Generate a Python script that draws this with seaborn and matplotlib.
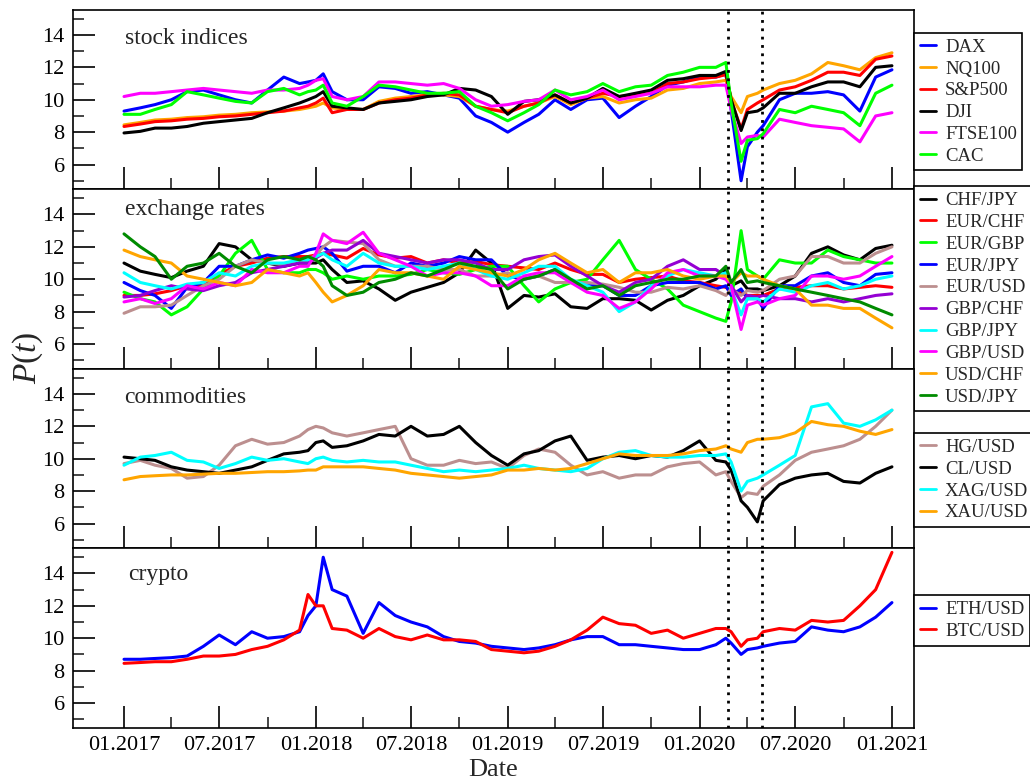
import numpy as np
import pandas as pd
import matplotlib
matplotlib.use("Agg")
import matplotlib.pyplot as plt
import matplotlib.dates as mdates
from matplotlib.ticker import MultipleLocator, FixedLocator
from matplotlib.lines import Line2D
import seaborn as sns

# ---------------- data ----------------
DATES = [
    "2017-01-01", "2017-02-01", "2017-03-01", "2017-04-01", "2017-05-01", "2017-06-01",
    "2017-07-01", "2017-08-01", "2017-09-01", "2017-10-01", "2017-11-01", "2017-12-01", "2017-12-17",
    "2018-01-01", "2018-01-15", "2018-02-01", "2018-03-01", "2018-04-01", "2018-05-01", "2018-06-01",
    "2018-07-01", "2018-08-01", "2018-09-01", "2018-10-01", "2018-11-01", "2018-12-01",
    "2019-01-01", "2019-02-01", "2019-03-01", "2019-04-01", "2019-05-01", "2019-06-01",
    "2019-07-01", "2019-08-01", "2019-09-01", "2019-10-01", "2019-11-01", "2019-12-01",
    "2020-01-01", "2020-02-01", "2020-02-20", "2020-03-01", "2020-03-20", "2020-04-01", "2020-04-20",
    "2020-05-01", "2020-06-01", "2020-07-01", "2020-08-01", "2020-09-01", "2020-10-01",
    "2020-11-01", "2020-12-01",
    "2021-01-01",
]

# stock indices
DAX = [9.3, 9.5, 9.7, 10.0, 10.5, 10.6, 10.3, 10.0, 9.8, 10.6, 11.4, 11.0, 11.1,
       11.2, 11.6, 10.5, 10.0, 10.0, 10.8, 10.7, 10.4, 10.5, 10.3, 10.1, 9.0, 8.6,
       8.0, 8.6, 9.1, 10.0, 9.4, 10.0, 10.1, 8.9, 9.6, 10.2, 10.9, 11.1,
       11.4, 11.4, 11.6, 9.4, 5.0, 7.1, 8.0, 8.4, 10.0, 10.4, 10.4, 10.5, 10.3, 9.3, 11.4,
       11.85]
NQ100 = [8.45, 8.6, 8.75, 8.8, 8.9, 8.95, 9.05, 9.1, 9.2, 9.25, 9.3, 9.4, 9.5,
         9.6, 9.8, 9.5, 9.4, 9.4, 9.9, 10.1, 10.2, 10.3, 10.3, 10.2, 9.6, 9.4,
         9.3, 9.6, 9.8, 10.2, 9.7, 10.1, 10.2, 9.8, 10.0, 10.1, 10.6, 10.7,
         11.0, 11.1, 11.2, 10.2, 9.2, 10.2, 10.4, 10.6, 11.0, 11.2, 11.6, 12.3, 12.1, 11.85, 12.6,
         12.9]
SP500 = [8.35, 8.5, 8.65, 8.7, 8.8, 8.85, 8.95, 9.0, 9.1, 9.2, 9.3, 9.5, 9.6,
         9.8, 10.1, 9.2, 9.4, 9.4, 9.8, 10.0, 10.1, 10.3, 10.4, 10.3, 9.6, 9.4,
         9.2, 9.6, 9.8, 10.3, 9.8, 10.1, 10.4, 10.2, 10.3, 10.4, 11.0, 11.1,
         11.3, 11.4, 11.55, 10.0, 8.2, 9.4, 9.8, 10.0, 10.6, 10.8, 11.2, 11.7, 11.7, 11.5, 12.5,
         12.7]
DJI = [7.95, 8.05, 8.25, 8.25, 8.35, 8.55, 8.65, 8.75, 8.85, 9.2, 9.5, 9.8, 10.0,
       10.2, 10.5, 9.6, 9.5, 9.4, 9.8, 9.9, 10.0, 10.2, 10.3, 10.7, 10.6, 10.2,
       9.1, 9.9, 10.0, 10.3, 9.8, 10.1, 10.7, 10.2, 10.4, 10.6, 11.2, 11.3,
       11.5, 11.5, 11.75, 10.0, 8.1, 9.2, 9.3, 9.5, 10.4, 10.4, 10.8, 11.1, 11.1, 10.8, 12.0,
       12.1]
FTSE100 = [10.2, 10.4, 10.4, 10.5, 10.6, 10.7, 10.6, 10.5, 10.4, 10.6, 10.6, 10.7, 10.9,
           11.2, 11.3, 10.2, 10.0, 10.2, 11.1, 11.1, 11.0, 10.9, 11.0, 10.7, 10.0, 9.6,
           9.7, 9.9, 10.0, 10.6, 10.0, 10.2, 10.6, 10.0, 10.2, 10.4, 10.8, 10.8,
           10.8, 10.9, 10.9, 9.4, 7.3, 7.7, 7.8, 7.7, 8.8, 8.6, 8.4, 8.3, 8.2, 7.4, 9.0,
           9.2]
CAC = [9.1, 9.1, 9.4, 9.7, 10.5, 10.3, 10.1, 9.9, 9.8, 10.5, 10.7, 10.3, 10.5,
       10.6, 10.9, 9.8, 9.6, 10.2, 10.9, 10.8, 10.6, 10.4, 10.4, 10.5, 9.6, 9.2,
       8.7, 9.2, 9.7, 10.6, 10.3, 10.5, 11.0, 10.5, 10.8, 10.9, 11.5, 11.7,
       12.0, 12.0, 12.3, 9.8, 6.2, 7.5, 7.6, 7.9, 9.4, 9.2, 9.6, 9.4, 9.2, 8.4, 10.4,
       10.9]

# exchange rates
CHFJPY = [11.0, 10.5, 10.3, 10.1, 10.5, 10.8, 12.2, 12.0, 11.2, 11.0, 10.8, 11.0, 11.0,
          11.0, 11.2, 10.6, 9.8, 9.9, 9.4, 8.7, 9.2, 9.5, 9.8, 10.4, 11.8, 11.0,
          8.2, 9.0, 8.9, 9.1, 8.3, 8.2, 8.8, 8.8, 8.7, 8.1, 8.7, 9.0,
          9.6, 10.0, 10.6, 9.6, 9.9, 9.4, 9.4, 9.3, 9.6, 10.2, 11.6, 12.0, 11.5, 11.2, 11.9,
          12.1]
EURCHF = [9.0, 9.0, 9.1, 9.3, 9.6, 9.6, 10.3, 10.8, 11.0, 11.3, 11.4, 11.4, 11.4,
          11.5, 11.6, 11.5, 11.3, 11.9, 11.5, 11.3, 11.4, 11.0, 11.2, 11.0, 11.1, 10.9,
          10.8, 10.7, 10.6, 11.0, 10.6, 10.3, 10.3, 9.8, 10.0, 10.1, 10.2, 9.9,
          9.8, 9.6, 9.5, 9.3, 9.2, 9.0, 9.0, 9.0, 9.4, 9.5, 9.6, 9.6, 9.4, 9.5, 9.6,
          9.5]
EURGBP = [9.2, 8.8, 8.6, 7.8, 8.3, 9.4, 10.2, 11.6, 12.4, 10.6, 10.4, 10.4, 10.6,
          10.6, 10.4, 10.0, 10.2, 10.0, 10.2, 10.2, 10.3, 10.6, 10.4, 10.3, 10.6, 10.8,
          10.8, 9.6, 8.6, 9.4, 9.8, 10.0, 11.2, 12.4, 10.6, 10.0, 9.4, 8.4,
          8.0, 7.6, 7.4, 8.6, 13.0, 10.6, 10.2, 10.0, 11.2, 11.0, 11.0, 11.8, 11.4, 11.2, 11.0,
          11.0]
EURJPY = [9.8, 9.3, 9.0, 8.2, 9.5, 9.8, 10.8, 10.8, 11.2, 11.5, 11.3, 11.6, 11.8,
          11.9, 12.0, 11.6, 10.5, 10.8, 10.8, 10.4, 11.0, 10.8, 11.0, 11.4, 11.2, 11.2,
          10.2, 10.0, 10.2, 10.6, 9.8, 9.6, 9.6, 9.0, 9.0, 9.6, 9.8, 9.8,
          9.8, 9.4, 9.6, 9.0, 9.4, 8.8, 8.8, 8.2, 9.6, 9.6, 10.2, 10.4, 9.8, 9.6, 10.3,
          10.4]
EURUSD = [7.9, 8.3, 8.3, 8.4, 9.0, 9.6, 10.0, 10.8, 11.2, 11.0, 10.9, 11.2, 11.2,
          11.5, 12.0, 12.4, 12.3, 12.2, 11.2, 10.8, 10.8, 10.8, 10.6, 10.6, 10.2, 10.2,
          10.4, 10.0, 10.2, 9.8, 9.8, 9.8, 9.7, 9.5, 9.2, 9.2, 9.5, 9.4,
          9.6, 9.3, 9.0, 9.4, 9.0, 9.3, 9.2, 9.3, 10.0, 10.2, 11.4, 11.4, 11.0, 11.0, 11.6,
          12.0]
GBPCHF = [8.9, 9.0, 9.3, 9.6, 9.4, 9.3, 9.6, 9.8, 10.4, 10.6, 10.8, 11.0, 11.0,
          11.3, 11.6, 11.8, 11.8, 12.4, 11.6, 11.4, 11.2, 11.0, 11.2, 11.2, 11.0, 10.6,
          10.6, 11.2, 11.4, 11.5, 10.8, 10.2, 9.6, 9.2, 9.8, 10.0, 10.8, 11.2,
          10.6, 10.6, 10.2, 9.6, 8.6, 9.0, 8.9, 9.0, 8.8, 8.8, 8.6, 8.8, 8.6, 8.8, 9.0,
          9.1]
GBPJPY = [10.4, 9.8, 9.6, 9.4, 9.7, 9.8, 10.4, 10.2, 10.8, 11.0, 11.0, 11.2, 11.2,
          11.4, 11.6, 11.2, 10.8, 11.6, 11.0, 10.8, 10.8, 10.6, 10.8, 11.0, 10.6, 10.2,
          10.0, 10.4, 10.8, 10.8, 10.0, 9.6, 9.2, 8.0, 8.6, 9.6, 10.2, 10.6,
          10.4, 10.2, 10.4, 9.4, 7.8, 8.8, 8.8, 8.6, 9.4, 9.2, 9.6, 9.8, 9.4, 9.6, 10.0,
          10.2]
GBPUSD = [8.6, 8.8, 8.5, 8.8, 9.6, 9.4, 9.8, 9.6, 10.6, 10.4, 10.4, 10.8, 10.8,
          11.6, 12.8, 12.4, 12.2, 12.9, 11.6, 11.2, 10.8, 10.2, 10.4, 10.4, 10.2, 9.6,
          9.6, 10.2, 10.4, 10.4, 9.8, 9.2, 9.0, 8.2, 8.6, 9.4, 10.4, 10.6,
          10.2, 10.2, 10.0, 9.6, 6.9, 8.4, 8.6, 8.4, 8.8, 9.0, 10.2, 10.2, 10.0, 10.2, 10.8,
          11.4]
USDCHF = [11.8, 11.4, 11.2, 11.0, 10.2, 10.0, 9.8, 9.6, 9.8, 10.6, 10.4, 10.2, 10.4,
          9.8, 9.2, 8.6, 9.0, 9.6, 10.6, 10.4, 10.4, 10.2, 10.0, 10.8, 10.6, 10.4,
          10.2, 10.6, 11.2, 11.6, 11.0, 10.4, 10.6, 9.8, 10.4, 10.4, 10.6, 10.2,
          10.0, 10.2, 10.2, 9.8, 10.4, 10.2, 10.2, 10.0, 9.6, 9.4, 8.4, 8.4, 8.2, 8.2, 7.6,
          7.0]
USDJPY = [12.8, 12.0, 11.4, 10.0, 10.8, 11.0, 11.6, 10.8, 10.4, 11.2, 11.4, 11.2, 11.4,
          11.2, 10.8, 9.6, 9.0, 9.2, 9.8, 10.0, 10.4, 10.2, 10.6, 11.0, 10.8, 10.6,
          9.4, 10.0, 10.2, 10.6, 10.0, 9.4, 9.6, 9.0, 9.6, 9.8, 10.0, 10.0,
          10.2, 10.2, 10.8, 9.8, 10.6, 9.8, 9.9, 9.8, 9.6, 9.4, 9.2, 9.0, 8.8, 8.6, 8.2,
          7.8]

# commodities
HGUSD = [9.7, 9.9, 9.6, 9.4, 8.8, 8.9, 9.6, 10.8, 11.2, 10.9, 11.0, 11.4, 11.8,
         12.0, 11.9, 11.6, 11.4, 11.6, 11.8, 12.0, 10.0, 9.6, 9.6, 9.9, 9.7, 9.8,
         9.4, 10.2, 10.6, 10.4, 9.6, 9.0, 9.2, 8.8, 9.0, 9.0, 9.5, 9.7,
         9.8, 9.0, 9.2, 8.6, 7.6, 7.9, 7.8, 8.3, 9.0, 9.9, 10.4, 10.6, 10.8, 11.2, 12.0,
         13.0]
CLUSD = [10.1, 10.0, 9.9, 9.5, 9.3, 9.2, 9.1, 9.3, 9.5, 9.9, 10.3, 10.4, 10.5,
         11.0, 11.1, 10.7, 10.8, 11.1, 11.5, 11.4, 12.0, 11.4, 11.5, 12.0, 11.0, 10.2,
         9.6, 10.3, 10.5, 11.1, 11.4, 9.9, 10.1, 10.2, 10.0, 10.2, 10.1, 10.5,
         11.1, 9.9, 9.8, 9.3, 7.4, 7.0, 6.1, 7.4, 8.4, 8.8, 9.0, 9.1, 8.6, 8.5, 9.1,
         9.5]
XAGUSD = [9.6, 10.1, 10.2, 10.4, 9.9, 9.8, 9.4, 9.7, 10.1, 9.9, 10.0, 9.8, 9.7,
          10.0, 10.1, 9.9, 9.8, 9.9, 9.8, 9.8, 9.6, 9.4, 9.2, 9.3, 9.2, 9.3,
          9.4, 9.6, 9.4, 9.3, 9.2, 9.4, 10.0, 10.4, 10.5, 10.2, 10.1, 10.1,
          10.2, 10.2, 10.3, 9.8, 8.0, 8.6, 8.8, 9.0, 9.6, 10.2, 13.2, 13.4, 12.2, 12.0, 12.4,
          13.0]
XAUUSD = [8.7, 8.9, 8.95, 9.0, 9.0, 9.05, 9.1, 9.1, 9.15, 9.2, 9.2, 9.25, 9.3,
          9.3, 9.5, 9.5, 9.5, 9.5, 9.4, 9.3, 9.1, 9.0, 8.9, 8.8, 8.9, 9.0,
          9.3, 9.3, 9.4, 9.3, 9.4, 9.7, 10.0, 10.3, 10.2, 10.2, 10.2, 10.3,
          10.5, 10.6, 10.8, 10.6, 10.4, 11.0, 11.2, 11.2, 11.3, 11.6, 12.3, 12.1, 12.0, 11.7, 11.5,
          11.8]

# crypto
ETHUSD = [8.7, 8.7, 8.75, 8.8, 8.9, 9.5, 10.2, 9.6, 10.4, 10.0, 10.1, 10.4, 11.4,
          12.0, 15.0, 13.0, 12.6, 10.3, 12.2, 11.4, 11.0, 10.7, 10.1, 9.8, 9.7, 9.5,
          9.4, 9.3, 9.4, 9.6, 9.9, 10.1, 10.1, 9.6, 9.6, 9.5, 9.4, 9.3,
          9.3, 9.6, 10.0, 9.7, 9.0, 9.3, 9.4, 9.5, 9.7, 9.8, 10.7, 10.5, 10.4, 10.7, 11.3,
          12.2]
BTCUSD = [8.45, 8.5, 8.55, 8.55, 8.7, 8.9, 8.9, 9.0, 9.3, 9.5, 9.9, 10.5, 12.7,
          12.0, 12.0, 10.6, 10.5, 10.0, 10.6, 10.1, 9.9, 10.2, 9.9, 9.9, 9.8, 9.3,
          9.2, 9.1, 9.2, 9.5, 9.9, 10.5, 11.3, 10.9, 10.8, 10.3, 10.5, 10.0,
          10.3, 10.6, 10.6, 10.4, 9.5, 9.9, 10.0, 10.4, 10.6, 10.5, 11.1, 11.0, 11.1, 12.0, 13.0,
          15.3]

PANEL_TITLES = ["stock indices", "exchange rates", "commodities", "crypto"]
PANEL_SERIES = [
    [("DAX", DAX), ("NQ100", NQ100), ("S&P500", SP500), ("DJI", DJI),
     ("FTSE100", FTSE100), ("CAC", CAC)],
    [("CHF/JPY", CHFJPY), ("EUR/CHF", EURCHF), ("EUR/GBP", EURGBP), ("EUR/JPY", EURJPY),
     ("EUR/USD", EURUSD), ("GBP/CHF", GBPCHF), ("GBP/JPY", GBPJPY), ("GBP/USD", GBPUSD),
     ("USD/CHF", USDCHF), ("USD/JPY", USDJPY)],
    [("HG/USD", HGUSD), ("CL/USD", CLUSD), ("XAG/USD", XAGUSD), ("XAU/USD", XAUUSD)],
    [("ETH/USD", ETHUSD), ("BTC/USD", BTCUSD)],
]
EVENT_DATES = ["2020-02-24", "2020-04-28"]
X_TICK_DATES = ["2017-01-01", "2017-07-01", "2018-01-01", "2018-07-01", "2019-01-01",
                "2019-07-01", "2020-01-01", "2020-07-01", "2021-01-01"]
X_MINOR_DATES = ["2017-04-01", "2017-10-01", "2018-04-01", "2018-10-01", "2019-04-01",
                 "2019-10-01", "2020-04-01", "2020-10-01"]

# ---------------- style ----------------
COLORS = {
    "DAX": "#0000ff", "NQ100": "#ffa500", "S&P500": "#ff0000", "DJI": "#000000",
    "FTSE100": "#ff00ff", "CAC": "#00ff00",
    "CHF/JPY": "#000000", "EUR/CHF": "#ff0000", "EUR/GBP": "#00ff00", "EUR/JPY": "#0000ff",
    "EUR/USD": "#bc8f8f", "GBP/CHF": "#9400d3", "GBP/JPY": "#00ffff", "GBP/USD": "#ff00ff",
    "USD/CHF": "#ffa500", "USD/JPY": "#008b00",
    "HG/USD": "#bc8f8f", "CL/USD": "#000000", "XAG/USD": "#00ffff", "XAU/USD": "#ffa500",
    "ETH/USD": "#0000ff", "BTC/USD": "#ff0000",
}

sns.set_theme(style="ticks")
plt.rcParams["font.family"] = ["Liberation Serif", "DejaVu Serif"]
plt.rcParams["mathtext.fontset"] = "custom"
plt.rcParams["mathtext.rm"] = "Liberation Serif"
plt.rcParams["mathtext.it"] = "Liberation Serif:italic"

dates = pd.to_datetime(DATES)

fig, axes = plt.subplots(4, 1, figsize=(10.30, 7.82), dpi=100, sharex=True)
fig.subplots_adjust(left=0.0709, right=0.8874, top=0.9872, bottom=0.0691, hspace=0)

title_y = [0.811, 0.860, 0.810, 0.822]
title_x = [0.062, 0.062, 0.061, 0.065]
legend_top = [0.872, 1.017, 0.642, 0.739]

for i, ax in enumerate(axes):
    rows = []
    for name, vals in PANEL_SERIES[i]:
        assert len(vals) == len(dates), (name, len(vals))
        rows.append(pd.DataFrame({"date": dates, "value": vals, "series": name}))
    df = pd.concat(rows, ignore_index=True)
    order = [n for n, _ in PANEL_SERIES[i]]
    sns.lineplot(data=df, x="date", y="value", hue="series", hue_order=order,
                 palette={n: COLORS[n] for n in order}, errorbar=None,
                 linewidth=2.2, legend=False, ax=ax)

    for d in EVENT_DATES:
        ax.axvline(pd.Timestamp(d), color="black", linestyle=(0, (1, 2)), linewidth=2.0, zorder=5)

    ax.set_ylim(4.46, 15.54)
    ax.yaxis.set_major_locator(FixedLocator([6, 8, 10, 12, 14]))
    ax.yaxis.set_minor_locator(FixedLocator([5, 7, 9, 11, 13, 15]))
    ax.set_ylabel("")
    ax.set_xlabel("")
    ax.tick_params(axis="both", which="major", direction="in", length=16, width=1.2,
                   labelsize=16, top=False, right=False, colors="black", pad=6)
    ax.tick_params(axis="both", which="minor", direction="in", length=8, width=1.2,
                   top=False, right=False)
    for sp in ax.spines.values():
        sp.set_visible(True)
        sp.set_linewidth(1.2)
        sp.set_color("black")

    ax.text(title_x[i], title_y[i], PANEL_TITLES[i], transform=ax.transAxes,
            fontsize=17, ha="left", va="baseline")

    handles = [Line2D([], [], color=COLORS[n], linewidth=2.0) for n in order]
    leg = ax.legend(handles, order, loc="upper left", bbox_to_anchor=(1.0, legend_top[i]),
                    borderaxespad=0, fontsize=13.5, handlelength=0.85, handletextpad=0.5,
                    labelspacing=0.25, borderpad=0.3, frameon=True, fancybox=False,
                    framealpha=1, edgecolor="black")
    leg.get_frame().set_linewidth(1.2)

axes[-1].set_xlim(pd.Timestamp("2016-09-26"), pd.Timestamp("2021-02-12"))
axes[-1].xaxis.set_major_locator(FixedLocator(mdates.date2num(pd.to_datetime(X_TICK_DATES))))
axes[-1].xaxis.set_minor_locator(FixedLocator(mdates.date2num(pd.to_datetime(X_MINOR_DATES))))
axes[-1].xaxis.set_major_formatter(mdates.DateFormatter("%m.%Y"))
axes[-1].set_xlabel("Date", fontsize=19, labelpad=3)
for ax in axes[:-1]:
    ax.tick_params(axis="x", labelbottom=False)

fig.text(0.027, 0.543, "$P(t)$", rotation=90, fontsize=24, ha="center", va="center")

fig.savefig("out.png", dpi=100)
